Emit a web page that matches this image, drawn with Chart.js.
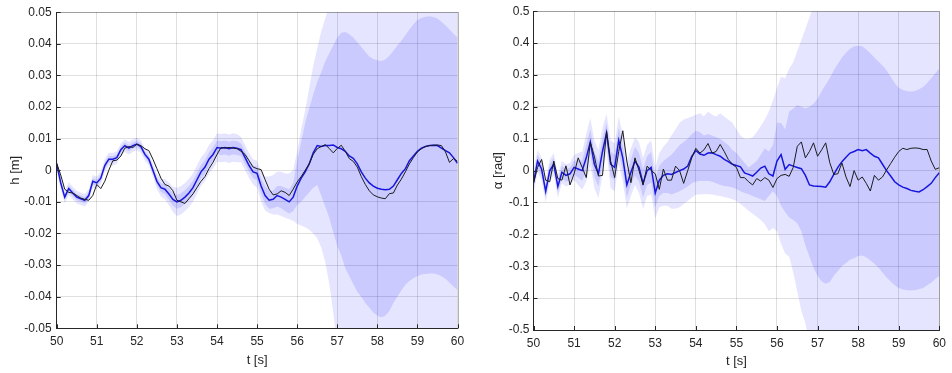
<!DOCTYPE html>
<html>
<head>
<meta charset="utf-8">
<script src="https://cdn.jsdelivr.net/npm/chart.js@4.4.1/dist/chart.umd.min.js"></script>
<style>
  html, body { margin: 0; padding: 0; background: #fff; }
  #wrap { position: relative; width: 952px; height: 373px; }
  canvas { position: absolute; top: 0; }
</style>
</head>
<body>
<div id="wrap">
  <canvas id="cH" width="476" height="373" style="left:0"></canvas>
  <canvas id="cA" width="476" height="373" style="left:476px"></canvas>
</div>
<script>
// sample times [s]
const t = [50.0,50.1,50.2,50.3,50.4,50.5,50.6,50.7,50.8,50.9,
  51.0,51.1,51.2,51.3,51.4,51.5,51.6,51.7,51.8,51.9,
  52.0,52.1,52.2,52.3,52.4,52.5,52.6,52.7,52.8,52.9,
  53.0,53.1,53.2,53.3,53.4,53.5,53.6,53.7,53.8,53.9,
  54.0,54.1,54.2,54.3,54.4,54.5,54.6,54.7,54.8,54.9,
  55.0,55.1,55.2,55.3,55.4,55.5,55.6,55.7,55.8,55.9,
  56.0,56.1,56.2,56.3,56.4,56.5,56.6,56.7,56.8,56.9,
  57.0,57.1,57.2,57.3,57.4,57.5,57.6,57.7,57.8,57.9,
  58.0,58.1,58.2,58.3,58.4,58.5,58.6,58.7,58.8,58.9,
  59.0,59.1,59.2,59.3,59.4,59.5,59.6,59.7,59.8,59.9,
  60.0];

const tTicks = [50,51,52,53,54,55,56,57,58,59,60];
const hTicks = [-0.05,-0.04,-0.03,-0.02,-0.01,0,0.01,0.02,0.03,0.04,0.05];
const aTicks = [-0.5,-0.4,-0.3,-0.2,-0.1,0,0.1,0.2,0.3,0.4,0.5];

// heave h [m]
const hTrue = [0.0022,-0.0015,-0.0060,-0.0070,-0.0072,-0.0080,-0.0088,-0.0092,-0.0095,-0.0080,
  -0.0045,-0.0058,-0.0035,0.0000,0.0030,0.0032,0.0045,0.0070,0.0075,0.0072,
  0.0082,0.0078,0.0068,0.0062,0.0035,0.0005,-0.0025,-0.0045,-0.0050,-0.0065,
  -0.0095,-0.0100,-0.0105,-0.0090,-0.0075,-0.0055,-0.0035,-0.0020,0.0005,0.0025,
  0.0050,0.0072,0.0070,0.0072,0.0070,0.0068,0.0060,0.0050,0.0030,0.0010,
  0.0005,0.0002,-0.0030,-0.0060,-0.0078,-0.0075,-0.0065,-0.0070,-0.0080,-0.0060,
  -0.0037,-0.0020,0.0000,0.0020,0.0050,0.0068,0.0075,0.0081,0.0069,0.0055,
  0.0069,0.0079,0.0060,0.0037,0.0028,0.0010,-0.0020,-0.0045,-0.0065,-0.0078,
  -0.0084,-0.0088,-0.0090,-0.0074,-0.0072,-0.0047,-0.0028,-0.0005,0.0020,0.0040,
  0.0058,0.0068,0.0075,0.0078,0.0079,0.0080,0.0078,0.0058,0.0025,0.0037,
  0.0028];
const hPred = [0.0020,-0.0040,-0.0085,-0.0058,-0.0072,-0.0085,-0.0090,-0.0095,-0.0080,-0.0035,
  -0.0040,-0.0025,0.0015,0.0035,0.0035,0.0040,0.0065,0.0078,0.0070,0.0078,
  0.0083,0.0075,0.0050,0.0035,0.0000,-0.0035,-0.0055,-0.0060,-0.0075,-0.0092,
  -0.0100,-0.0095,-0.0085,-0.0072,-0.0055,-0.0030,-0.0005,0.0010,0.0035,0.0050,
  0.0072,0.0070,0.0072,0.0068,0.0072,0.0070,0.0065,0.0040,0.0015,-0.0005,
  -0.0010,-0.0050,-0.0080,-0.0095,-0.0092,-0.0080,-0.0085,-0.0092,-0.0100,-0.0085,
  -0.0050,-0.0025,-0.0005,0.0020,0.0055,0.0078,0.0075,0.0078,0.0078,0.0080,
  0.0072,0.0068,0.0060,0.0045,0.0038,0.0020,-0.0005,-0.0025,-0.0040,-0.0050,
  -0.0057,-0.0060,-0.0062,-0.0060,-0.0050,-0.0030,-0.0010,0.0005,0.0030,0.0045,
  0.0060,0.0070,0.0075,0.0078,0.0079,0.0078,0.0070,0.0062,0.0055,0.0040,
  0.0022];
const hInLo = [0.0010,-0.0050,-0.0095,-0.0068,-0.0082,-0.0095,-0.0100,-0.0105,-0.0090,-0.0045,
  -0.0050,-0.0035,0.0005,0.0025,0.0025,0.0030,0.0055,0.0068,0.0060,0.0068,
  0.0073,0.0065,0.0040,0.0025,-0.0010,-0.0047,-0.0069,-0.0076,-0.0093,-0.0112,
  -0.0122,-0.0117,-0.0107,-0.0094,-0.0077,-0.0052,-0.0027,-0.0012,0.0013,0.0028,
  0.0050,0.0048,0.0050,0.0046,0.0050,0.0048,0.0045,0.0020,-0.0005,-0.0025,
  -0.0032,-0.0075,-0.0107,-0.0122,-0.0120,-0.0115,-0.0120,-0.0130,-0.0137,-0.0130,
  -0.0110,-0.0100,-0.0085,-0.0070,-0.0055,-0.0047,-0.0080,-0.0115,-0.0150,-0.0195,
  -0.0240,-0.0270,-0.0310,-0.0335,-0.0360,-0.0385,-0.0400,-0.0420,-0.0435,-0.0450,
  -0.0460,-0.0465,-0.0460,-0.0445,-0.0420,-0.0400,-0.0380,-0.0362,-0.0350,-0.0342,
  -0.0335,-0.0330,-0.0328,-0.0327,-0.0327,-0.0330,-0.0335,-0.0343,-0.0355,-0.0368,
  -0.0380];
const hInHi = [0.0030,-0.0030,-0.0075,-0.0048,-0.0062,-0.0075,-0.0080,-0.0085,-0.0070,-0.0025,
  -0.0030,-0.0015,0.0025,0.0045,0.0045,0.0050,0.0075,0.0088,0.0080,0.0088,
  0.0093,0.0085,0.0060,0.0045,0.0010,-0.0023,-0.0041,-0.0044,-0.0057,-0.0072,
  -0.0078,-0.0073,-0.0063,-0.0050,-0.0033,-0.0008,0.0017,0.0032,0.0057,0.0072,
  0.0094,0.0092,0.0094,0.0090,0.0094,0.0092,0.0085,0.0060,0.0035,0.0015,
  0.0012,-0.0025,-0.0050,-0.0065,-0.0065,-0.0050,-0.0050,-0.0055,-0.0060,-0.0040,
  0.0030,0.0090,0.0150,0.0195,0.0240,0.0280,0.0310,0.0345,0.0370,0.0395,
  0.0420,0.0435,0.0437,0.0430,0.0420,0.0405,0.0390,0.0375,0.0360,0.0352,
  0.0348,0.0346,0.0350,0.0362,0.0378,0.0395,0.0410,0.0428,0.0445,0.0462,
  0.0475,0.0482,0.0486,0.0487,0.0485,0.0480,0.0470,0.0458,0.0445,0.0432,
  0.0420];
const hOutLo = [0.0000,-0.0060,-0.0105,-0.0078,-0.0092,-0.0105,-0.0110,-0.0115,-0.0100,-0.0055,
  -0.0060,-0.0045,-0.0005,0.0015,0.0015,0.0020,0.0045,0.0058,0.0050,0.0058,
  0.0063,0.0055,0.0030,0.0015,-0.0020,-0.0059,-0.0083,-0.0092,-0.0111,-0.0132,
  -0.0145,-0.0140,-0.0130,-0.0117,-0.0100,-0.0075,-0.0050,-0.0035,-0.0010,0.0005,
  0.0027,0.0025,0.0027,0.0023,0.0027,0.0025,0.0025,0.0000,-0.0025,-0.0045,
  -0.0055,-0.0100,-0.0127,-0.0135,-0.0140,-0.0140,-0.0145,-0.0150,-0.0155,-0.0160,
  -0.0170,-0.0175,-0.0180,-0.0188,-0.0200,-0.0215,-0.0245,-0.0290,-0.0360,-0.0450,
  -0.0560,-0.0650,-0.0700,-0.0720,-0.0740,-0.0760,-0.0770,-0.0780,-0.0790,-0.0800,
  -0.0800,-0.0800,-0.0800,-0.0790,-0.0780,-0.0770,-0.0760,-0.0750,-0.0740,-0.0730,
  -0.0720,-0.0710,-0.0710,-0.0710,-0.0710,-0.0710,-0.0710,-0.0710,-0.0720,-0.0720,
  -0.0730];
const hOutHi = [0.0040,-0.0020,-0.0065,-0.0038,-0.0052,-0.0065,-0.0070,-0.0075,-0.0060,-0.0015,
  -0.0020,-0.0005,0.0035,0.0055,0.0055,0.0060,0.0085,0.0098,0.0090,0.0098,
  0.0103,0.0095,0.0070,0.0055,0.0020,-0.0011,-0.0027,-0.0028,-0.0039,-0.0052,
  -0.0055,-0.0050,-0.0040,-0.0027,-0.0010,0.0015,0.0040,0.0055,0.0080,0.0095,
  0.0117,0.0115,0.0117,0.0113,0.0117,0.0115,0.0105,0.0080,0.0055,0.0035,
  0.0030,-0.0005,-0.0020,-0.0020,-0.0015,-0.0005,-0.0005,-0.0010,-0.0010,0.0000,
  0.0060,0.0130,0.0190,0.0260,0.0330,0.0385,0.0440,0.0480,0.0520,0.0560,
  0.0600,0.0630,0.0650,0.0660,0.0660,0.0650,0.0640,0.0630,0.0620,0.0610,
  0.0600,0.0600,0.0600,0.0610,0.0620,0.0630,0.0640,0.0650,0.0660,0.0670,
  0.0680,0.0690,0.0690,0.0690,0.0690,0.0680,0.0670,0.0660,0.0650,0.0640,
  0.0630];

// pitch alpha [rad]
const aTrue = [-0.040,0.010,0.035,-0.030,-0.035,0.030,-0.025,-0.030,0.015,-0.045,
  -0.010,0.040,0.010,-0.022,0.088,0.045,-0.017,-0.015,0.123,0.030,
  -0.022,0.060,0.125,0.030,-0.038,0.040,0.000,-0.045,0.014,0.000,
  -0.010,-0.059,0.005,-0.030,-0.030,0.014,0.000,-0.040,0.000,0.040,
  0.070,0.055,0.065,0.085,0.055,0.060,0.082,0.060,0.035,0.020,
  0.010,-0.022,-0.022,-0.035,-0.045,-0.025,-0.033,-0.022,-0.030,-0.053,
  -0.025,-0.015,-0.012,-0.018,0.010,0.076,0.090,0.040,0.060,0.087,
  0.045,0.065,0.087,0.025,-0.012,-0.010,0.024,-0.020,-0.050,0.000,
  -0.030,-0.020,-0.040,-0.064,-0.015,-0.030,-0.020,0.002,0.022,0.042,
  0.060,0.070,0.066,0.070,0.071,0.070,0.066,0.066,0.030,0.004,
  0.009];
const aPred = [-0.038,0.030,0.005,-0.065,0.000,0.020,-0.050,-0.005,-0.015,-0.010,
  0.010,0.005,0.000,0.040,0.090,0.020,-0.010,0.060,0.118,0.020,
  0.010,0.095,0.040,-0.045,-0.005,0.030,0.010,-0.040,0.000,0.010,
  -0.070,-0.030,-0.015,-0.010,-0.012,-0.006,0.000,0.005,0.014,0.045,
  0.063,0.052,0.048,0.055,0.056,0.050,0.045,0.035,0.028,0.020,
  0.016,0.012,-0.007,-0.012,-0.017,-0.005,0.008,0.014,-0.010,-0.017,
  0.030,0.050,0.004,0.019,0.014,0.010,0.006,-0.015,-0.045,-0.048,
  -0.049,-0.050,-0.052,-0.035,-0.012,0.010,0.028,0.042,0.055,0.060,
  0.066,0.062,0.066,0.055,0.045,0.040,0.020,0.000,-0.017,-0.035,
  -0.045,-0.052,-0.056,-0.062,-0.065,-0.067,-0.060,-0.050,-0.040,-0.022,
  -0.007];
const aOutLo = [-0.075,-0.005,-0.030,-0.100,-0.035,-0.015,-0.085,-0.040,-0.050,-0.045,
  -0.030,-0.045,-0.060,-0.035,0.015,-0.055,-0.085,-0.015,0.058,-0.055,
  -0.065,0.020,-0.035,-0.120,-0.080,-0.045,-0.070,-0.120,-0.080,-0.075,
  -0.150,-0.115,-0.110,-0.110,-0.120,-0.120,-0.115,-0.105,-0.095,-0.085,
  -0.075,-0.075,-0.074,-0.074,-0.075,-0.078,-0.080,-0.083,-0.086,-0.090,
  -0.095,-0.105,-0.115,-0.126,-0.135,-0.145,-0.155,-0.168,-0.190,-0.180,
  -0.190,-0.230,-0.260,-0.270,-0.320,-0.380,-0.440,-0.480,-0.540,-0.600,
  -0.650,-0.700,-0.740,-0.760,-0.770,-0.780,-0.780,-0.780,-0.780,-0.780,
  -0.780,-0.780,-0.780,-0.780,-0.780,-0.780,-0.780,-0.780,-0.780,-0.780,
  -0.780,-0.780,-0.780,-0.780,-0.780,-0.780,-0.780,-0.780,-0.780,-0.780,
  -0.780];
const aInLo = [-0.058,0.010,-0.015,-0.085,-0.020,0.000,-0.070,-0.025,-0.035,-0.030,
  -0.012,-0.022,-0.032,0.000,0.050,-0.020,-0.050,0.020,0.088,-0.020,
  -0.030,0.055,0.000,-0.085,-0.045,-0.015,-0.035,-0.085,-0.045,-0.038,
  -0.115,-0.080,-0.070,-0.070,-0.075,-0.070,-0.065,-0.058,-0.050,-0.040,
  -0.035,-0.033,-0.033,-0.033,-0.035,-0.040,-0.045,-0.048,-0.050,-0.053,
  -0.058,-0.065,-0.070,-0.074,-0.080,-0.085,-0.090,-0.095,-0.080,-0.065,
  -0.080,-0.110,-0.130,-0.147,-0.155,-0.165,-0.190,-0.235,-0.270,-0.305,
  -0.330,-0.348,-0.355,-0.350,-0.330,-0.315,-0.300,-0.290,-0.280,-0.275,
  -0.268,-0.266,-0.272,-0.282,-0.292,-0.305,-0.320,-0.335,-0.348,-0.360,
  -0.368,-0.373,-0.375,-0.376,-0.375,-0.372,-0.368,-0.360,-0.352,-0.340,
  -0.330];
const aInHi = [-0.018,0.050,0.025,-0.045,0.020,0.040,-0.030,0.015,0.005,0.010,
  0.032,0.032,0.032,0.080,0.130,0.060,0.030,0.100,0.150,0.060,
  0.050,0.135,0.080,-0.005,0.035,0.075,0.055,0.005,0.045,0.058,
  -0.025,0.015,0.030,0.040,0.050,0.065,0.080,0.090,0.100,0.115,
  0.125,0.120,0.110,0.115,0.110,0.105,0.100,0.090,0.080,0.065,
  0.055,0.040,0.025,0.010,0.020,0.030,0.050,0.070,0.060,0.080,
  0.150,0.150,0.130,0.185,0.195,0.205,0.200,0.195,0.200,0.210,
  0.225,0.250,0.270,0.290,0.315,0.335,0.355,0.370,0.382,0.390,
  0.392,0.390,0.380,0.368,0.355,0.342,0.330,0.315,0.295,0.275,
  0.260,0.253,0.250,0.248,0.250,0.255,0.262,0.275,0.290,0.305,
  0.320];
const aOutHi = [0.000,0.065,0.040,-0.030,0.035,0.055,-0.015,0.030,0.020,0.025,
  0.050,0.055,0.060,0.115,0.165,0.095,0.065,0.135,0.178,0.095,
  0.085,0.170,0.115,0.030,0.070,0.105,0.090,0.040,0.080,0.095,
  0.010,0.055,0.075,0.090,0.110,0.130,0.150,0.160,0.165,0.170,
  0.175,0.180,0.170,0.185,0.175,0.170,0.180,0.170,0.160,0.150,
  0.130,0.110,0.100,0.100,0.105,0.120,0.140,0.160,0.185,0.220,
  0.260,0.295,0.290,0.320,0.340,0.375,0.410,0.445,0.480,0.520,
  0.560,0.600,0.640,0.680,0.700,0.720,0.740,0.750,0.760,0.760,
  0.760,0.760,0.760,0.750,0.740,0.730,0.720,0.710,0.700,0.690,
  0.680,0.670,0.670,0.670,0.670,0.670,0.670,0.680,0.690,0.700,
  0.710];

const FONT = "'Liberation Sans', Arial, Helvetica, sans-serif";
const AXIS = '#262626';
const GRID = 'rgba(38,38,38,0.15)';

// inward tick marks and the light box edges, MATLAB style
const frame = {
  id: 'frame',
  afterDraw(chart) {
    const {ctx, chartArea: a, scales: {x, y}} = chart;
    const p = v => Math.round(v) + 0.5;
    ctx.save();
    ctx.lineWidth = 1;
    ctx.strokeStyle = 'rgba(38,38,38,0.35)';
    ctx.beginPath();
    ctx.moveTo(p(a.left), p(a.top)); ctx.lineTo(p(a.right), p(a.top));
    ctx.lineTo(p(a.right), p(a.bottom));
    ctx.stroke();
    ctx.strokeStyle = AXIS;
    ctx.beginPath();
    x.ticks.forEach(tk => {
      const X = p(x.getPixelForValue(tk.value));
      ctx.moveTo(X, a.bottom); ctx.lineTo(X, a.bottom - 4);
    });
    y.ticks.forEach(tk => {
      const Y = p(y.getPixelForValue(tk.value));
      ctx.moveTo(a.left, Y); ctx.lineTo(a.left + 4, Y);
    });
    ctx.stroke();
    ctx.restore();
  }
};

function band(data, fill, color, order) {
  return { data, fill, backgroundColor: color, borderColor: 'rgba(0,0,0,0)',
           borderWidth: 0, pointRadius: 0, order };
}

function makeChart(id, s) {
  return new Chart(document.getElementById(id), {
    type: 'line',
    data: {
      labels: t,
      datasets: [
        { data: s.tru, borderColor: '#1c1c1c', borderWidth: 1, pointRadius: 0, fill: false, order: 0 },
        { data: s.pred, borderColor: '#1616dc', borderWidth: 1.5, pointRadius: 0, fill: false, order: 1 },
        band(s.outLo, false, 'rgba(0,0,0,0)', 4),
        band(s.outHi, '-1', 'rgba(0,0,255,0.10)', 4),
        band(s.inLo, false, 'rgba(0,0,0,0)', 3),
        band(s.inHi, '-1', 'rgba(0,0,255,0.12)', 3)
      ]
    },
    options: {
      responsive: false,
      animation: false,
      devicePixelRatio: 1,
      events: [],
      layout: { padding: { left: 0, top: s.padTop, right: s.padRight, bottom: 0 } },
      plugins: { legend: { display: false }, tooltip: { enabled: false } },
      elements: { line: { tension: 0 } },
      scales: {
        x: {
          type: 'linear', min: 50, max: 60,
          afterBuildTicks: sc => { sc.ticks = tTicks.map(v => ({ value: v })); },
          afterFit: sc => { sc.height = s.xHeight; },
          grid: { color: GRID, drawTicks: false },
          border: { color: AXIS, z: 1 },
          ticks: { color: AXIS, font: { family: FONT, size: 12 }, padding: 6,
                   maxRotation: 0, autoSkip: false, callback: v => String(v) },
          title: { display: true, text: 't [s]', color: AXIS,
                   font: { family: FONT, size: 13 }, padding: { top: 0, bottom: s.xTitlePad } }
        },
        y: {
          min: s.ticks[0], max: s.ticks[s.ticks.length - 1],
          afterBuildTicks: sc => { sc.ticks = s.ticks.map(v => ({ value: v })); },
          afterFit: sc => { sc.width = s.yWidth; },
          grid: { color: GRID, drawTicks: false },
          border: { color: AXIS, z: 1 },
          ticks: { color: AXIS, font: { family: FONT, size: 12 }, padding: s.yTickPad,
                   autoSkip: false, callback: v => String(v) },
          title: { display: true, text: s.yTitle, color: AXIS,
                   font: { family: FONT, size: 13 }, padding: { top: s.yTitlePad, bottom: 0 } }
        }
      }
    },
    plugins: [frame]
  });
}

makeChart('cH', {
  tru: hTrue, pred: hPred, inLo: hInLo, inHi: hInHi, outLo: hOutLo, outHi: hOutHi,
  ticks: hTicks, yTitle: 'h [m]',
  yWidth: 56.7, padTop: 11, padRight: 18.5, xHeight: 44.7,
  yTickPad: 5, yTitlePad: 7.2, xTitlePad: 4.5
});

makeChart('cA', {
  tru: aTrue, pred: aPred, inLo: aInLo, inHi: aInHi, outLo: aOutLo, outHi: aOutHi,
  ticks: aTicks, yTitle: 'α [rad]',
  yWidth: 57.5, padTop: 8.3, padRight: 11.3, xHeight: 43,
  yTickPad: 4, yTitlePad: 14.2, xTitlePad: 3.5
});
</script>
</body>
</html>
